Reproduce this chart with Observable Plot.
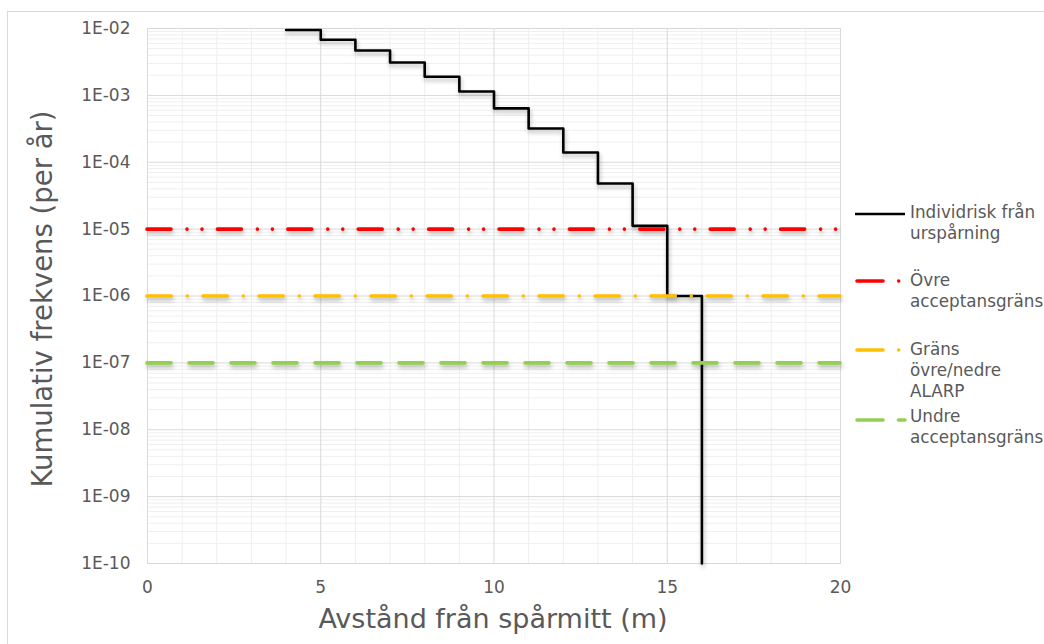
<!DOCTYPE html>
<html>
<head>
<meta charset="utf-8">
<script src="https://cdn.jsdelivr.net/npm/d3@7"></script>
<script src="https://cdn.jsdelivr.net/npm/@observablehq/plot@0.6"></script>
<style>
  html, body { margin: 0; padding: 0; background: #fff; }
  #wrap { position: relative; width: 1044px; height: 644px; overflow: hidden; font-family: "DejaVu Sans", Verdana, sans-serif; color: #595959; }
  #border { position: absolute; left: 7px; top: 11px; width: 1200px; height: 800px; border: 1px solid #d9d9d9; }
  #chart { position: absolute; left: 0; top: 0; }
  .title { position: absolute; white-space: nowrap; color: #595959; }
  .leg { position: absolute; left: 910px; font-size: 16.8px; line-height: 21px; color: #595959; white-space: nowrap; }
  .legsw { position: absolute; left: 850px; }
</style>
</head>
<body>
<div id="wrap">
  <div id="border"></div>
  <div id="chart"></div>
</div>
<script>
// ---- data ----
const distance = [4, 5, 6, 7, 8, 9, 10, 11, 12, 13, 14, 15, 16];
const frequency = [0.0095, 0.0068, 0.0047, 0.0031, 0.0019, 0.00114, 0.00064, 0.00032, 0.00014, 0.000048, 0.0000112, 0.000001, 1e-10];
const seriesLines = ["Individrisk från", "urspårning"];

const limitNames = ["Övre acceptansgräns", "Gräns övre/nedre ALARP", "Undre acceptansgräns"];
const limitLabelLines = [["Övre", "acceptansgräns"], ["Gräns", "övre/nedre", "ALARP"], ["Undre", "acceptansgräns"]];
const limitValues = [1e-5, 1e-6, 1e-7];
const limitColors = ["#ff0000", "#ffc000", "#92d050"];
const limitDash = ["24,16,0,15,0,15.4", "24.3,16,0,15.7", "24,18"];

const xTicks = [0, 5, 10, 15, 20];
const yTicks = [1e-10, 1e-9, 1e-8, 1e-7, 1e-6, 1e-5, 1e-4, 1e-3, 1e-2];
const xTitle = "Avstånd från spårmitt (m)";
const yTitle = "Kumulativ frekvens (per år)";

// ---- derived tables ----
const steps = distance.map((d, i) => ({x: d, y: frequency[i]}));
const limits = limitValues.map((v, i) => ({name: limitNames[i], value: v, color: limitColors[i], dash: limitDash[i]}));
const xMinor = d3.range(0, 21).filter(v => v % 5 !== 0);
const xMajor = [5, 10, 15];
const yMinor = [];
for (let e = -10; e < -2; e++) for (let m = 2; m <= 9; m++) yMinor.push(m * Math.pow(10, e));
const yMajor = yTicks.slice(1, -1);
const fmt = d => "1E-" + String(Math.round(-Math.log10(d))).padStart(2, "0");

const W = 1044, H = 644;
const plot = Plot.plot({
  width: W, height: H,
  marginLeft: 147, marginRight: 204, marginTop: 28, marginBottom: 81,
  style: {fontFamily: "DejaVu Sans, Verdana, sans-serif", fontSize: "17px", color: "#595959", background: "transparent", overflow: "visible"},
  x: {domain: [0, 20], ticks: xTicks, tickSize: 0, tickPadding: 17, label: null},
  y: {type: "log", domain: [1e-10, 1e-2], ticks: yTicks, tickFormat: fmt, tickSize: 0, tickPadding: 17, label: null},
  marks: [
    Plot.ruleX(xMinor, {stroke: "#eeeeee", strokeWidth: 1}),
    Plot.ruleY(yMinor, {stroke: "#efefef", strokeWidth: 1}),
    Plot.ruleX(xMajor, {stroke: "#d9d9d9", strokeWidth: 1}),
    Plot.ruleY(yMajor, {stroke: "#d9d9d9", strokeWidth: 1}),
    Plot.frame({stroke: "#d9d9d9"}),
    Plot.line(steps, {x: "x", y: "y", curve: "step-after", stroke: "#000", strokeWidth: 2.6}),
    ...limits.map(l => Plot.ruleY([l.value], {x1: 0, x2: 20, stroke: l.color, strokeWidth: 3.6, strokeDasharray: l.dash, strokeLinecap: "round"})),
    Plot.axisX({ticks: xTicks, tickSize: 0, tickPadding: 17, label: null, fill: "#595959"}),
    Plot.axisY({ticks: yTicks, tickFormat: fmt, tickSize: 0, tickPadding: 17, label: null, fill: "#595959"})
  ]
});
document.getElementById("chart").appendChild(plot);
const shadow = "drop-shadow(1px 3px 2px rgba(0,0,0,0.28))";
d3.select(plot).selectAll('g[aria-label="line"]').style("filter", shadow);
d3.select(plot).selectAll('g[aria-label="rule"]')
  .filter(function() { return limitColors.includes(this.getAttribute("stroke")); })
  .style("filter", shadow);

const wrap = document.getElementById("wrap");
// axis titles
const xt = document.createElement("div");
xt.className = "title"; xt.textContent = xTitle;
xt.style.cssText += "font-size:27px;left:493px;top:618px;transform:translate(-50%,-50%);";
wrap.appendChild(xt);
const yt = document.createElement("div");
yt.className = "title"; yt.textContent = yTitle;
yt.style.cssText += "font-size:27.5px;left:42px;top:299px;transform:translate(-50%,-50%) rotate(-90deg);";
wrap.appendChild(yt);

// legend
function swatch(y, color, width, kind) {
  const ns = "http://www.w3.org/2000/svg";
  const s = document.createElementNS(ns, "svg");
  s.setAttribute("width", 70); s.setAttribute("height", 12);
  s.setAttribute("class", "legsw");
  s.style.top = (y - 6) + "px";
  const add = (x1, x2) => {
    const l = document.createElementNS(ns, "line");
    l.setAttribute("x1", x1); l.setAttribute("x2", x2);
    l.setAttribute("y1", 6); l.setAttribute("y2", 6);
    l.setAttribute("stroke", color); l.setAttribute("stroke-width", width);
    l.setAttribute("stroke-linecap", kind === "solid" ? "butt" : "round");
    s.appendChild(l);
  };
  if (kind === "solid") add(5, 55);
  else if (kind === "dot") { add(7, 33); add(48.7, 48.7); }
  else { add(7, 33); add(48.5, 55); }
  wrap.appendChild(s);
}
function legText(top, lines) {
  const d = document.createElement("div");
  d.className = "leg"; d.style.top = top + "px";
  d.innerHTML = lines.join("<br>");
  wrap.appendChild(d);
}
swatch(213.5, "#000", 2.6, "solid");
legText(202, seriesLines);
const legY = [281, 350, 419.5];
const legTop = [269.5, 338.5, 406];
const kinds = ["dot", "dot", "dash"];
limits.forEach((l, i) => {
  swatch(legY[i], l.color, 3.6, kinds[i]);
  legText(legTop[i], limitLabelLines[i]);
});
</script>
</body>
</html>
